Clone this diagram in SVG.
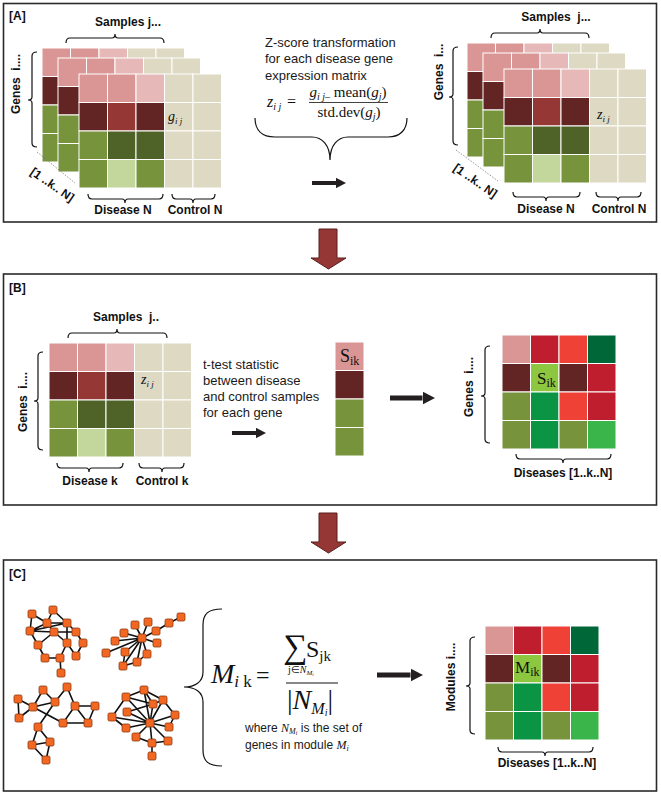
<svg xmlns="http://www.w3.org/2000/svg" width="661" height="796" viewBox="0 0 661 796">
<style>
.lb{font-family:"Liberation Sans",Arial,sans-serif;font-weight:bold;font-size:12px;fill:#111}
.tx{font-family:"Liberation Sans",Arial,sans-serif;font-size:13px;fill:#1a1a1a}
.sm{font-family:"Liberation Sans",Arial,sans-serif;font-size:12px;fill:#1a1a1a}
.m{font-family:"Liberation Serif","Times New Roman",serif;fill:#111}
.it{font-style:italic}
.br{fill:none;stroke:#111;stroke-width:1.2}
.panel{fill:#fff;stroke:#2a2a2a;stroke-width:1.6}
.c{stroke:#fff;stroke-width:1}
.p{fill:#d99694}.lp{fill:#e6b9b8}.b{fill:#ddd9c3}
.mr{fill:#632523}.r{fill:#953735}
.g{fill:#77933c}.dg{fill:#4f6228}.lg{fill:#c3d69b}
.cr{fill:#be1e2d}.rd{fill:#ef4136}.dkg{fill:#006838}.ltg{fill:#8dc63f}.gr{fill:#0b9444}.bg{fill:#39b54a}
.ed{fill:none;stroke:#111;stroke-width:1.6}
.nd{fill:#f26722;stroke:#8a3b12;stroke-width:0.8}
.arr{stroke:#231f20;marker-end:url(#ah)}
.dot{stroke:#777;stroke-width:0.8;stroke-dasharray:1.5 1.5}
</style>
<defs>
<marker id="ah" markerWidth="2.5" markerHeight="2.6" refX="0" refY="1.3" orient="auto" markerUnits="strokeWidth">
<path d="M0,0 L2.5,1.3 L0,2.6 z" fill="#231f20"/>
</marker>
<g id="mat5">
<rect class="c p" x="0" y="0" width="28.5" height="28.5"/><rect class="c p" x="28.5" y="0" width="28.5" height="28.5"/><rect class="c lp" x="57" y="0" width="28.5" height="28.5"/><rect class="c b" x="85.5" y="0" width="28.5" height="28.5"/><rect class="c b" x="114" y="0" width="28.5" height="28.5"/>
<rect class="c mr" x="0" y="28.5" width="28.5" height="28.5"/><rect class="c r" x="28.5" y="28.5" width="28.5" height="28.5"/><rect class="c mr" x="57" y="28.5" width="28.5" height="28.5"/><rect class="c b" x="85.5" y="28.5" width="28.5" height="28.5"/><rect class="c b" x="114" y="28.5" width="28.5" height="28.5"/>
<rect class="c g" x="0" y="57" width="28.5" height="28.5"/><rect class="c dg" x="28.5" y="57" width="28.5" height="28.5"/><rect class="c dg" x="57" y="57" width="28.5" height="28.5"/><rect class="c b" x="85.5" y="57" width="28.5" height="28.5"/><rect class="c b" x="114" y="57" width="28.5" height="28.5"/>
<rect class="c g" x="0" y="85.5" width="28.5" height="28.5"/><rect class="c lg" x="28.5" y="85.5" width="28.5" height="28.5"/><rect class="c g" x="57" y="85.5" width="28.5" height="28.5"/><rect class="c b" x="85.5" y="85.5" width="28.5" height="28.5"/><rect class="c b" x="114" y="85.5" width="28.5" height="28.5"/>
</g>
<g id="heat4">
<rect class="c p" x="0" y="0" width="28.5" height="28.5"/><rect class="c cr" x="28.5" y="0" width="28.5" height="28.5"/><rect class="c rd" x="57" y="0" width="28.5" height="28.5"/><rect class="c dkg" x="85.5" y="0" width="28.5" height="28.5"/>
<rect class="c mr" x="0" y="28.5" width="28.5" height="28.5"/><rect class="c ltg" x="28.5" y="28.5" width="28.5" height="28.5"/><rect class="c mr" x="57" y="28.5" width="28.5" height="28.5"/><rect class="c cr" x="85.5" y="28.5" width="28.5" height="28.5"/>
<rect class="c g" x="0" y="57" width="28.5" height="28.5"/><rect class="c gr" x="28.5" y="57" width="28.5" height="28.5"/><rect class="c rd" x="57" y="57" width="28.5" height="28.5"/><rect class="c cr" x="85.5" y="57" width="28.5" height="28.5"/>
<rect class="c g" x="0" y="85.5" width="28.5" height="28.5"/><rect class="c gr" x="28.5" y="85.5" width="28.5" height="28.5"/><rect class="c g" x="57" y="85.5" width="28.5" height="28.5"/><rect class="c bg" x="85.5" y="85.5" width="28.5" height="28.5"/>
</g>
<path id="down" d="M8,0 H26 V29 H35 L17.5,40 L0,29 H8 Z" fill="#953735" stroke="#5a1e1d" stroke-width="1"/>
</defs>

<g id="panel-A">
<rect class="panel" x="3.5" y="3.5" width="653" height="218.5"/>
<text class="lb" x="9" y="20">[A]</text>
</g>
<g id="panel-B">
<rect class="panel" x="3.5" y="274" width="653" height="231"/>
<text class="lb" x="9" y="292">[B]</text>
</g>
<g id="panel-C">
<rect class="panel" x="3.5" y="560" width="653" height="231"/>
<text class="lb" x="9" y="578">[C]</text>
</g>

<g id="a-left-stack">
<text class="lb" x="128" y="26" text-anchor="middle">Samples j...</text>
<path class="br" d="M66,43 Q66,38 70,38 H112 Q115,38 115,34 Q115,38 118,38 H160 Q164,38 164,43"/>
<text class="lb" transform="translate(20,84) rotate(-90)" text-anchor="middle" style="white-space:pre">Genes  i....</text>
<path class="br" d="M37,52 Q32,52 32,56 V97 Q32,100 28,100 Q32,100 32,103 V143 Q32,147 37,147"/>
<use href="#mat5" x="42" y="48"/>
<use href="#mat5" x="58" y="58"/>
<use href="#mat5" x="79" y="74"/>
<text class="m" x="168" y="121" font-size="14"><tspan class="it">g</tspan><tspan class="it" font-size="9" dy="3">i j</tspan></text>
<line class="dot" x1="37" y1="152" x2="75" y2="183"/>
<text class="lb" transform="translate(50,188) rotate(35)" text-anchor="middle">[1 ..k.. N]</text>
<path class="br" d="M88,194 Q88,199 92,199 H122 Q125,199 125,203 Q125,199 128,199 H159 Q163,199 163,194"/>
<path class="br" d="M172,194 Q172,199 176,199 H190 Q193,199 193,203 Q193,199 196,199 H211 Q215,199 215,194"/>
<text class="lb" x="123" y="214" text-anchor="middle">Disease N</text>
<text class="lb" x="195" y="214" text-anchor="middle">Control N</text>
</g>

<g id="a-zscore">
<text class="tx" x="265" y="47">Z-score transformation</text>
<text class="tx" x="265" y="63">for each disease gene</text>
<text class="tx" x="265" y="80">expression matrix</text>
<text class="m" x="267" y="107" font-size="16"><tspan class="it">z</tspan><tspan class="it" font-size="10" dy="3">i j</tspan></text>
<text class="m" x="287" y="107" font-size="16">=</text>
<text class="m" x="348" y="97" font-size="15" text-anchor="middle"><tspan class="it">g</tspan><tspan class="it" font-size="10" dy="3">i j–</tspan><tspan dy="-3"> mean(</tspan><tspan class="it">g</tspan><tspan class="it" font-size="10" dy="3">j</tspan><tspan dy="-3">)</tspan></text>
<line x1="309" y1="102.5" x2="388" y2="102.5" stroke="#111" stroke-width="0.8"/>
<text class="m" x="349" y="117" font-size="15" text-anchor="middle">std.dev(<tspan class="it">g</tspan><tspan class="it" font-size="10" dy="3">j</tspan><tspan dy="-3">)</tspan></text>
<path class="br" d="M255,118 C255,130 262,137 275,137 L312,137 C322,137 330,145 330,160 C330,145 338,137 348,137 L388,137 C400,137 407,130 407,118"/>
</g>

<g id="a-right-stack">
<text class="lb" x="556" y="21" text-anchor="middle" style="white-space:pre">Samples  j...</text>
<path class="br" d="M491,38 Q491,33 495,33 H537 Q540,33 540,29 Q540,33 543,33 H585 Q589,33 589,38"/>
<text class="lb" transform="translate(443,72) rotate(-90)" text-anchor="middle" style="white-space:pre">Genes  i...</text>
<path class="br" d="M458,47 Q453,47 453,51 V94 Q453,97 449,97 Q453,97 453,100 V141 Q453,145 458,145"/>
<use href="#mat5" x="467" y="43"/>
<use href="#mat5" x="483" y="53"/>
<use href="#mat5" x="504" y="69"/>
<text class="m" x="597" y="119" font-size="14"><tspan class="it">z</tspan><tspan class="it" font-size="9" dy="3">i j</tspan></text>
<line class="dot" x1="456" y1="150" x2="498" y2="181"/>
<text class="lb" transform="translate(473,184) rotate(35)" text-anchor="middle">[1 ..k.. N]</text>
<path class="br" d="M513,192 Q513,197 517,197 H543 Q546,197 546,201 Q546,197 549,197 H576 Q580,197 580,192"/>
<path class="br" d="M596,192 Q596,197 600,197 H615 Q618,197 618,201 Q618,197 621,197 H637 Q641,197 641,192"/>
<text class="lb" x="546" y="213" text-anchor="middle">Disease N</text>
<text class="lb" x="619" y="213" text-anchor="middle">Control N</text>
</g>

<g id="b-matrix">
<text class="lb" x="126" y="321" text-anchor="middle" style="white-space:pre">Samples  j..</text>
<path class="br" d="M68,338 Q68,333 72,333 H114 Q117,333 117,329 Q117,333 120,333 H163 Q167,333 167,338"/>
<text class="lb" transform="translate(27,402) rotate(-90)" text-anchor="middle" style="white-space:pre">Genes  i....</text>
<path class="br" d="M43,352 Q38,352 38,356 V398 Q38,401 34,401 Q38,401 38,404 V446 Q38,450 43,450"/>
<use href="#mat5" x="49" y="343"/>
<text class="m" x="141" y="384" font-size="14"><tspan class="it">z</tspan><tspan class="it" font-size="9" dy="3">i j</tspan></text>
<path class="br" d="M57,463 Q57,468 61,468 H86 Q89,468 89,472 Q89,468 92,468 H119 Q123,468 123,463"/>
<path class="br" d="M139,463 Q139,468 143,468 H159 Q162,468 162,472 Q162,468 165,468 H180 Q184,468 184,463"/>
<text class="lb" x="90" y="485" text-anchor="middle">Disease k</text>
<text class="lb" x="162" y="485" text-anchor="middle">Control k</text>
</g>
<g id="b-ttest">
<text class="tx" x="203" y="369">t-test statistic</text>
<text class="tx" x="203" y="385">between disease</text>
<text class="tx" x="203" y="401">and control samples</text>
<text class="tx" x="203" y="417">for each gene</text>
</g>
<g id="b-vector">
<rect class="c p" x="335" y="342" width="29" height="28.5"/>
<rect class="c mr" x="335" y="370.5" width="29" height="28.5"/>
<rect class="c g" x="335" y="399" width="29" height="28.5"/>
<rect class="c g" x="335" y="427.5" width="29" height="28.5"/>
<text class="m" x="340" y="362" font-size="18">S<tspan font-size="12" dy="3">ik</tspan></text>
</g>
<g id="b-heatmap">
<text class="lb" transform="translate(473,387) rotate(-90)" text-anchor="middle" style="white-space:pre">Genes  i....</text>
<path class="br" d="M490,346 Q485,346 485,350 V393 Q485,396 481,396 Q485,396 485,399 V439 Q485,443 490,443"/>
<use href="#heat4" x="502" y="335"/>
<text class="m" x="537" y="384" font-size="17">S<tspan font-size="12" dy="3">ik</tspan></text>
<path class="br" d="M516,454 Q516,459 520,459 H560 Q563,459 563,463 Q563,459 566,459 H607 Q611,459 611,454"/>
<text class="lb" x="563" y="477" text-anchor="middle">Diseases [1..k..N]</text>
</g>

<g id="c-net1">
<path class="ed" d="M32,614L47,623M32,614L30,631M53,610L47,623M53,610L67,623M47,623L67,623M47,623L30,631M47,623L54,632M30,631L54,632M30,631L67,623M54,632L76,632M67,623L67,643M67,623L76,632M76,632L83,643M83,643L76,656M67,643L76,656M54,632L67,643M30,631L38,645M38,645L45,658M45,658L60,658M60,658L67,643M60,658L61,673M38,645L54,632"/>
<rect class="nd" x="28" y="610" width="8" height="8" rx="1.5"/><rect class="nd" x="49" y="606" width="8" height="8" rx="1.5"/><rect class="nd" x="43" y="619" width="8" height="8" rx="1.5"/><rect class="nd" x="63" y="619" width="8" height="8" rx="1.5"/><rect class="nd" x="26" y="627" width="8" height="8" rx="1.5"/><rect class="nd" x="50" y="628" width="8" height="8" rx="1.5"/><rect class="nd" x="72" y="628" width="8" height="8" rx="1.5"/><rect class="nd" x="34" y="641" width="8" height="8" rx="1.5"/><rect class="nd" x="63" y="639" width="8" height="8" rx="1.5"/><rect class="nd" x="79" y="639" width="8" height="8" rx="1.5"/><rect class="nd" x="41" y="654" width="8" height="8" rx="1.5"/><rect class="nd" x="56" y="654" width="8" height="8" rx="1.5"/><rect class="nd" x="72" y="652" width="8" height="8" rx="1.5"/><rect class="nd" x="57" y="669" width="8" height="8" rx="1.5"/>
</g>
<g id="c-net2">
<path class="ed" d="M142,638L115,641M142,638L124,633M142,638L135,625M142,638L148,622M142,638L156,631M142,638L157,643M142,638L147,654M142,638L137,662M142,638L123,666M142,638L125,652M142,638L106,653M156,631L169,623M169,623L181,617M123,666L137,662M137,662L147,654M125,652L123,666"/>
<rect class="nd" x="138" y="634" width="8" height="8" rx="1.5"/><rect class="nd" x="111" y="637" width="8" height="8" rx="1.5"/><rect class="nd" x="120" y="629" width="8" height="8" rx="1.5"/><rect class="nd" x="131" y="621" width="8" height="8" rx="1.5"/><rect class="nd" x="144" y="618" width="8" height="8" rx="1.5"/><rect class="nd" x="152" y="627" width="8" height="8" rx="1.5"/><rect class="nd" x="165" y="619" width="8" height="8" rx="1.5"/><rect class="nd" x="177" y="613" width="8" height="8" rx="1.5"/><rect class="nd" x="153" y="639" width="8" height="8" rx="1.5"/><rect class="nd" x="143" y="650" width="8" height="8" rx="1.5"/><rect class="nd" x="133" y="658" width="8" height="8" rx="1.5"/><rect class="nd" x="119" y="662" width="8" height="8" rx="1.5"/><rect class="nd" x="121" y="648" width="8" height="8" rx="1.5"/><rect class="nd" x="102" y="649" width="8" height="8" rx="1.5"/>
</g>
<g id="c-net3">
<path class="ed" d="M18,699L33,707M18,699L19,718M19,718L33,707M33,707L43,690M43,690L55,702M33,707L55,702M55,702L67,687M67,687L75,706M75,706L95,706M95,706L88,723M75,706L88,723M75,706L63,723M63,723L88,723M33,707L63,723M55,702L38,727M38,727L32,745M38,727L50,742M32,745L50,742M32,745L46,760M50,742L46,760"/>
<rect class="nd" x="14" y="695" width="8" height="8" rx="1.5"/><rect class="nd" x="15" y="714" width="8" height="8" rx="1.5"/><rect class="nd" x="29" y="703" width="8" height="8" rx="1.5"/><rect class="nd" x="39" y="686" width="8" height="8" rx="1.5"/><rect class="nd" x="51" y="698" width="8" height="8" rx="1.5"/><rect class="nd" x="63" y="683" width="8" height="8" rx="1.5"/><rect class="nd" x="71" y="702" width="8" height="8" rx="1.5"/><rect class="nd" x="91" y="702" width="8" height="8" rx="1.5"/><rect class="nd" x="84" y="719" width="8" height="8" rx="1.5"/><rect class="nd" x="59" y="719" width="8" height="8" rx="1.5"/><rect class="nd" x="34" y="723" width="8" height="8" rx="1.5"/><rect class="nd" x="28" y="741" width="8" height="8" rx="1.5"/><rect class="nd" x="46" y="738" width="8" height="8" rx="1.5"/><rect class="nd" x="42" y="756" width="8" height="8" rx="1.5"/>
</g>
<g id="c-net4">
<path class="ed" d="M150,723L126,697M150,723L144,690M150,723L163,700M150,723L153,704M150,723L127,712M150,723L112,717M150,723L175,715M150,723L169,727M150,723L126,728M150,723L136,737M150,723L152,743M150,723L168,741M126,697L144,690M144,690L153,704M126,697L153,704M126,697L112,717M112,717L126,728M153,704L163,700M163,700L175,715M175,715L169,727M136,737L152,743M152,743L168,741M152,743L152,756M127,712L153,704M144,690L163,700"/>
<rect class="nd" x="146" y="719" width="8" height="8" rx="1.5"/><rect class="nd" x="122" y="693" width="8" height="8" rx="1.5"/><rect class="nd" x="140" y="686" width="8" height="8" rx="1.5"/><rect class="nd" x="159" y="696" width="8" height="8" rx="1.5"/><rect class="nd" x="149" y="700" width="8" height="8" rx="1.5"/><rect class="nd" x="123" y="708" width="8" height="8" rx="1.5"/><rect class="nd" x="108" y="713" width="8" height="8" rx="1.5"/><rect class="nd" x="171" y="711" width="8" height="8" rx="1.5"/><rect class="nd" x="165" y="723" width="8" height="8" rx="1.5"/><rect class="nd" x="122" y="724" width="8" height="8" rx="1.5"/><rect class="nd" x="132" y="733" width="8" height="8" rx="1.5"/><rect class="nd" x="148" y="739" width="8" height="8" rx="1.5"/><rect class="nd" x="164" y="737" width="8" height="8" rx="1.5"/><rect class="nd" x="148" y="752" width="8" height="8" rx="1.5"/>
</g>
<g id="c-formula">
<path class="br" d="M222,609 C208,609 203,614 203,625 L203,672 C203,682 195,687 184,687 C195,687 203,692 203,702 L203,750 C203,761 208,766 222,766"/>
<text class="m" x="211" y="683" font-size="28"><tspan class="it">M</tspan><tspan class="it" font-size="17" dy="4">i</tspan><tspan font-size="17"> k</tspan></text>
<text class="m" x="256" y="683" font-size="24">=</text>
<text class="m" x="283" y="658" font-size="34">∑</text>
<text class="m" x="306" y="657" font-size="24">S<tspan font-size="15" dy="4">jk</tspan></text>
<text class="m" x="288" y="673" font-size="10">j∈<tspan class="it">N</tspan><tspan class="it" font-size="7" dy="2">M</tspan><tspan class="it" font-size="5" dy="1">i</tspan></text>
<line x1="286" y1="683" x2="338" y2="683" stroke="#111" stroke-width="1"/>
<text class="m" x="287" y="709" font-size="28">|<tspan class="it">N</tspan><tspan class="it" font-size="16" dy="5">M</tspan><tspan class="it" font-size="10" dy="2">i</tspan><tspan dy="-7">|</tspan></text>
<text class="sm" x="245" y="732">where <tspan class="m it" font-size="12">N</tspan><tspan class="m it" font-size="8" dy="2">M</tspan><tspan class="m it" font-size="6" dy="1">i</tspan><tspan dy="-3"> is the set of</tspan></text>
<text class="sm" x="245" y="749">genes in module <tspan class="m it" font-size="12">M</tspan><tspan class="m it" font-size="8" dy="2">i</tspan></text>
</g>
<g id="c-heatmap">
<text class="lb" transform="translate(455,677) rotate(-90)" text-anchor="middle">Modules i....</text>
<path class="br" d="M475,637 Q470,637 470,641 V683 Q470,686 466,686 Q470,686 470,689 V730 Q470,734 475,734"/>
<use href="#heat4" x="485" y="626"/>
<text class="m" x="515" y="673" font-size="17">M<tspan font-size="12" dy="3">ik</tspan></text>
<path class="br" d="M498,747 Q498,752 502,752 H542 Q545,752 545,756 Q545,752 548,752 H589 Q593,752 593,747"/>
<text class="lb" x="547" y="767" text-anchor="middle">Diseases [1..k..N]</text>
</g>

<g id="connectors">
<line class="arr" x1="312" y1="183" x2="336" y2="183" stroke-width="4"/>
<line class="arr" x1="232" y1="433" x2="256" y2="433" stroke-width="4"/>
<line class="arr" x1="390" y1="398" x2="422.5" y2="398" stroke-width="5"/>
<line class="arr" x1="377" y1="675" x2="410.5" y2="675" stroke-width="5"/>
<use href="#down" x="311" y="229"/>
<use href="#down" x="311" y="513"/>
</g>
</svg>
